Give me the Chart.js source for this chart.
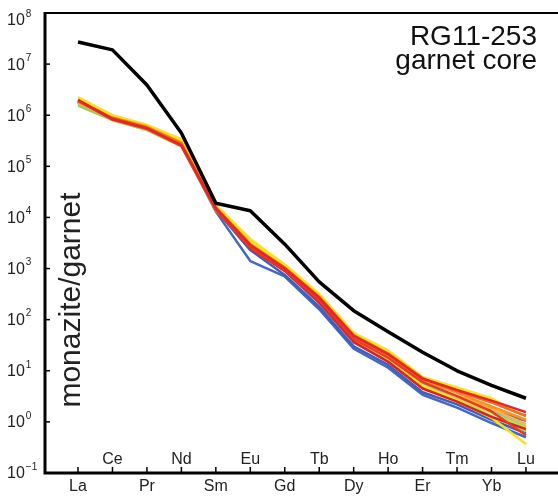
<!DOCTYPE html>
<html>
<head>
<meta charset="utf-8">
<script src="https://cdn.jsdelivr.net/npm/chart.js@4.4.1/dist/chart.umd.min.js"></script>
<style>
  body { margin: 0; background: #fff; }
</style>
</head>
<body>
<canvas id="mychart" width="558" height="496"></canvas>
<script>
// REE elements along the x axis
var elements = ['La', 'Ce', 'Pr', 'Nd', 'Sm', 'Eu', 'Gd', 'Tb', 'Dy', 'Ho', 'Er', 'Tm', 'Yb', 'Lu'];
// y tick exponents (10^n)
var exponents = [-1, 0, 1, 2, 3, 4, 5, 6, 7, 8];
var titleLines = ['RG11-253', 'garnet core'];
var yTitle = 'monazite/garnet';

// bulk monazite / garnet core (black)
var bulk = [2.7e7, 1.9e7, 3.9e6, 4.5e5, 1.9e4, 1.35e4, 3.0e3, 550, 150, 58, 23, 10, 5.2, 2.9];

// individual spots (coloured)
var red1    = [2.0e6, 8.5e5, 5.6e5, 2.6e5, 1.5e4, 2.9e3, 1.0e3, 270, 48, 21, 7.0, 4.2, 2.6, 1.55];
var red2    = [1.95e6, 8.2e5, 5.4e5, 2.5e5, 1.4e4, 2.6e3, 950, 240, 42, 18, 6.0, 3.2, 1.6, 0.55];
var red3    = [1.9e6, 8.4e5, 5.5e5, 2.6e5, 1.45e4, 2.5e3, 900, 220, 37, 15, 4.5, 2.5, 1.25, 0.72];
var orange1 = [1.9e6, 8.8e5, 5.8e5, 2.8e5, 1.6e4, 3.0e3, 1.05e3, 280, 50, 22, 7.2, 4.0, 2.4, 1.3];
var orange2 = [1.85e6, 9.0e5, 6.0e5, 2.9e5, 1.55e4, 2.8e3, 1.0e3, 260, 46, 20, 6.5, 3.7, 2.0, 1.1];
var orange3 = [1.8e6, 8.7e5, 5.7e5, 2.7e5, 1.5e4, 2.7e3, 980, 250, 44, 19, 6.0, 3.4, 1.8, 0.9];
var white1  = [1.9e6, 8.6e5, 5.6e5, 2.7e5, 1.5e4, 2.8e3, 980, 250, 44, 19, 6.2, 3.6, 2.2, 1.2];
var yellow1 = [2.25e6, 1.0e6, 6.5e5, 3.4e5, 1.75e4, 3.8e3, 1.2e3, 320, 55, 25, 7.6, 4.7, 2.9, 1.25];
var yellow2 = [2.1e6, 9.5e5, 6.2e5, 3.1e5, 1.6e4, 3.3e3, 1.1e3, 290, 47, 19, 5.2, 2.6, 1.2, 0.37];
var ygreen  = [1.75e6, 8.4e5, 5.5e5, 2.6e5, 1.45e4, 3.1e3, 1.0e3, 240, 40, 17, 5.0, 2.8, 1.5, 0.78];
var green   = [1.55e6, 8.0e5, 5.1e5, 2.45e5, 1.35e4, 3.4e3, 1.05e3, 230, 38, 16, 4.8, 2.6, 1.3, 0.65];
var teal    = [1.7e6, 8.6e5, 5.5e5, 2.7e5, 1.5e4, 3.6e3, 1.1e3, 250, 42, 18, 5.5, 3.0, 1.6, 0.8];
var ltblue  = [1.8e6, 9.0e5, 5.8e5, 2.8e5, 1.55e4, 3.2e3, 1.05e3, 240, 40, 17, 5.5, 3.3, 2.0, 1.35];
var blue3   = [1.85e6, 9.0e5, 5.7e5, 2.8e5, 1.5e4, 2.7e3, 900, 210, 36, 15, 4.6, 2.7, 1.7, 1.05];
var blue2   = [1.8e6, 8.8e5, 5.6e5, 2.7e5, 1.4e4, 2.3e3, 750, 180, 30, 13, 3.8, 2.2, 1.1, 0.6];
var blue1   = [1.75e6, 9.2e5, 5.6e5, 2.7e5, 1.3e4, 1.4e3, 700, 160, 27, 11.5, 3.4, 1.9, 0.95, 0.5];

// first listed is drawn on top
var spots = [red1, red2, orange1, red3, orange2, white1, orange3, yellow1, yellow2, ygreen, teal, green, ltblue, blue3, blue2, blue1];
var spotColors = ['#e3262b', '#ea3a24', '#f26a21', '#d92127', '#f7941d', '#ffffff', '#fbb040', '#ffe01b',
                  '#f3e51a', '#c8d847', '#66c6bd', '#99cc66', '#6ea8dc', '#5577c8', '#3f5fb8', '#4467c0'];

function toPoints(arr) {
    return arr.map(function (v, i) { return {x: i, y: v}; });
}

var datasets = [{
    data: toPoints(bulk),
    borderColor: '#000',
    borderWidth: 3.5
}];
for (var i = 0; i < spots.length; i++) {
    datasets.push({
        data: toPoints(spots[i]),
        borderColor: spotColors[i],
        borderWidth: 2.5
    });
}

var FONT = "'Liberation Sans', Arial, Helvetica, sans-serif";

var axesPlugin = {
    id: 'axesPlugin',
    afterDraw: function (chart) {
        var ctx = chart.ctx;
        var a = chart.chartArea;
        var xs = chart.scales.x;
        var ys = chart.scales.y;
        ctx.save();
        ctx.strokeStyle = '#000';

        // frame: top line, left axis, bottom axis
        ctx.lineWidth = 2;
        ctx.beginPath();
        ctx.moveTo(a.left, a.top);
        ctx.lineTo(a.right, a.top);
        ctx.stroke();
        ctx.lineWidth = 3;
        ctx.beginPath();
        ctx.moveTo(a.left, a.top - 1);
        ctx.lineTo(a.left, a.bottom + 1.5);
        ctx.moveTo(a.left - 1.5, a.bottom);
        ctx.lineTo(a.right, a.bottom);
        ctx.stroke();

        // y ticks + labels
        ctx.lineWidth = 1.5;
        ctx.fillStyle = '#222';
        ctx.textBaseline = 'middle';
        exponents.forEach(function (e) {
            var py = ys.getPixelForValue(Math.pow(10, e));
            ctx.beginPath();
            ctx.moveTo(a.left, py);
            ctx.lineTo(a.left + 5, py);
            ctx.stroke();
            var ly = Math.max(py + 1, 21);
            ctx.font = '16px ' + FONT;
            ctx.textAlign = 'left';
            ctx.fillText('10', 7, ly);
            var w = ctx.measureText('10').width;
            ctx.font = '10px ' + FONT;
            ctx.fillText(e < 0 ? '\u2212' + (-e) : String(e), 7 + w + 1, ly - 7);
        });

        // x ticks + labels (alternating rows)
        ctx.font = '16px ' + FONT;
        ctx.textAlign = 'center';
        ctx.textBaseline = 'alphabetic';
        elements.forEach(function (el, i) {
            var px = xs.getPixelForValue(i);
            ctx.beginPath();
            ctx.moveTo(px, a.bottom);
            ctx.lineTo(px, a.bottom - 6);
            ctx.stroke();
            if (i % 2 === 0) {
                ctx.fillText(el, px, 491);
            } else {
                ctx.fillText(el, px, 464);
            }
        });

        // y title, rotated
        ctx.save();
        ctx.translate(80, 300);
        ctx.rotate(-Math.PI / 2);
        ctx.font = '30px ' + FONT;
        ctx.textAlign = 'center';
        ctx.fillStyle = '#222';
        ctx.fillText(yTitle, 0, 0);
        ctx.restore();

        // sample title
        ctx.font = '28px ' + FONT;
        ctx.textAlign = 'right';
        ctx.fillStyle = '#111';
        ctx.fillText(titleLines[0], 537, 45);
        ctx.fillText(titleLines[1], 537, 69);

        ctx.restore();
    }
};

var ctx = document.getElementById('mychart');
var chart = new Chart(ctx, {
    type: 'line',
    data: { datasets: datasets },
    options: {
        responsive: false,
        animation: false,
        layout: { padding: { left: 45, top: 13, right: 0, bottom: 23 } },
        elements: {
            point: { radius: 0 },
            line: { tension: 0, borderJoinStyle: 'round', borderCapStyle: 'butt' }
        },
        scales: {
            x: { type: 'linear', min: -0.958, max: 13.93, display: false },
            y: { type: 'logarithmic', min: 0.1, max: 1e8, display: false }
        },
        plugins: {
            legend: { display: false },
            tooltip: { enabled: false }
        }
    },
    plugins: [axesPlugin]
});
</script>
</body>
</html>
